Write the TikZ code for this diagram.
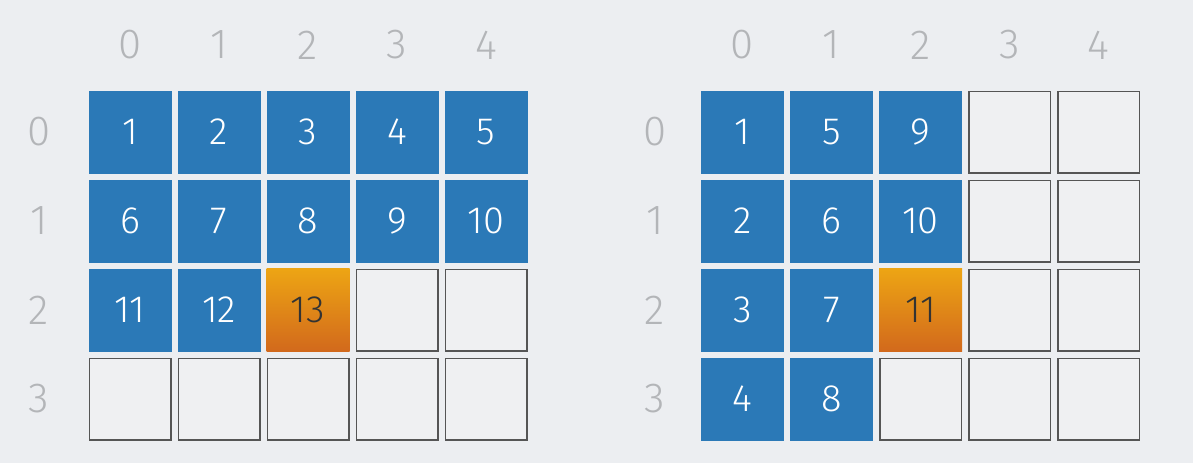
\documentclass[tikz,border=0pt]{standalone}
\usepackage{fontspec}
\setmainfont{Fira Sans Light}
\definecolor{bg}{HTML}{ECEEF1}
\definecolor{cellblue}{HTML}{2B79B7}
\definecolor{orTop}{HTML}{EDA514}
\definecolor{orBot}{HTML}{D2691C}
\definecolor{boxline}{HTML}{555555}
\definecolor{emptyfill}{HTML}{EFF0F2}
\definecolor{lbl}{HTML}{B3B5B8}
\begin{document}
\begin{tikzpicture}[x=1pt,y=-1pt,
  cellbase/.style={minimum size=83pt,inner sep=0pt,outer sep=0pt,font=\fontsize{38}{38}\selectfont},
  bluecell/.style={cellbase,fill=cellblue,text=white},
  orcell/.style={cellbase,top color=orTop,bottom color=orBot,text=black!80},
  emptycell/.style={cellbase,minimum size=81.5pt,draw=boxline,line width=1.5pt,fill=emptyfill},
  idx/.style={inner sep=0pt,text=lbl,font=\fontsize{42}{42}\selectfont}]
\fill[bg] (0,0) rectangle (1193,463);
\useasboundingbox (0,0) rectangle (1193,463);
% left grid
\foreach \c in {0,...,4} {\node[idx] (lc\c) at (130+89*\c,45) {\c};}
\foreach \r in {0,...,3} {\node[idx] (lr\r) at (39,132+89*\r) {\r};}
\foreach \r/\c/\v in {0/0/1,0/1/2,0/2/3,0/3/4,0/4/5,1/0/6,1/1/7,1/2/8,1/3/9,1/4/10,2/0/11,2/1/12}
  {\node[bluecell] (L\r\c) at (130+89*\c,132+89*\r) {\v};}
\node[orcell] (L22) at (130+89*2,132+89*2) {13};
\foreach \r/\c in {2/3,2/4,3/0,3/1,3/2,3/3,3/4}
  {\node[emptycell] (L\r\c) at (130+89*\c,132+89*\r) {};}
% right grid
\foreach \c in {0,...,4} {\node[idx] (rc\c) at (742.5+89*\c,45) {\c};}
\foreach \r in {0,...,3} {\node[idx] (rr\r) at (655,132+89*\r) {\r};}
\foreach \r/\c/\v in {0/0/1,0/1/5,0/2/9,1/0/2,1/1/6,1/2/10,2/0/3,2/1/7,3/0/4,3/1/8}
  {\node[bluecell] (R\r\c) at (742.5+89*\c,132+89*\r) {\v};}
\node[orcell] (R22) at (742.5+89*2,132+89*2) {11};
\foreach \r/\c in {0/3,0/4,1/3,1/4,2/3,2/4,3/2,3/3,3/4}
  {\node[emptycell] (R\r\c) at (742.5+89*\c,132+89*\r) {};}
\end{tikzpicture}
\end{document}
